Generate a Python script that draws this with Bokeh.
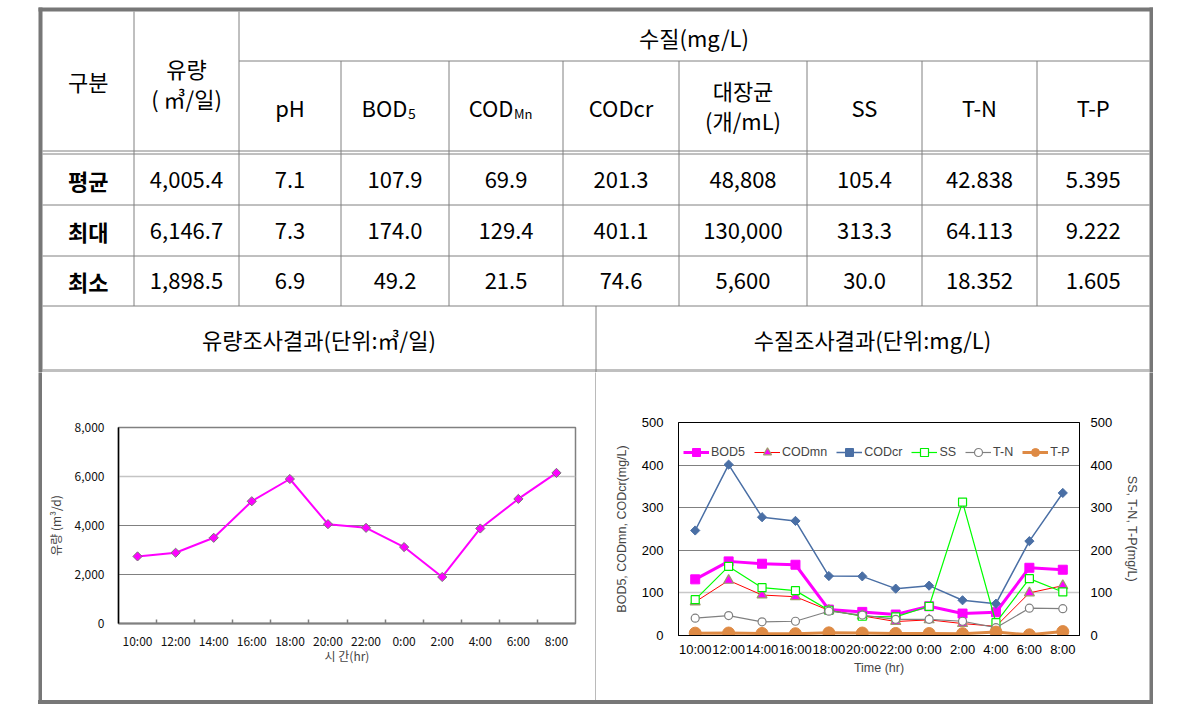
import math
from bokeh.plotting import figure
from bokeh.models import Range1d, LinearAxis, FixedTicker, NumeralTickFormatter, Grid, Spacer
from bokeh.layouts import row, column
from bokeh.embed import file_html
from bokeh.resources import INLINE
from bokeh.core.properties import value

# ---------------- data ----------------
times = ["10:00", "12:00", "14:00", "16:00", "18:00", "20:00", "22:00",
         "0:00", "2:00", "4:00", "6:00", "8:00"]
flow = [2739, 2888, 3498, 4990, 5898, 4054, 3905, 3119, 1898.5, 3878, 5085, 6146.7]
bod5 = [131.8, 174.0, 168.5, 166.1, 60.8, 55.4, 49.2, 68.6, 51.5, 54.6, 159.0, 154.4]
codmn = [78.8, 129.4, 95.0, 91.0, 59.0, 46.0, 32.8, 36.7, 28.0, 21.5, 100.0, 117.0]
codcr = [246.5, 401.1, 277.7, 269.0, 139.6, 138.8, 110.0, 117.0, 82.7, 74.6, 221.5, 334.6]
ss = [84.2, 162.2, 112.3, 105.3, 59.3, 45.2, 43.7, 68.6, 313.3, 30.0, 133.4, 102.2]
tn = [40.6, 46.8, 32.0, 33.5, 57.0, 48.0, 38.0, 38.0, 33.5, 18.4, 64.1, 63.0]
tp = [5.5, 5.8, 4.8, 4.2, 6.2, 5.8, 4.8, 4.6, 4.3, 8.0, 1.6, 9.2]

flow_yticks = [0, 2000, 4000, 6000, 8000]
wq_yticks = [0, 100, 200, 300, 400, 500]

stat_labels = ["평균", "최대", "최소"]
stat_flow = ["4,005.4", "6,146.7", "1,898.5"]
stat_ph = ["7.1", "7.3", "6.9"]
stat_bod = ["107.9", "174.0", "49.2"]
stat_codmn = ["69.9", "129.4", "21.5"]
stat_codcr = ["201.3", "401.1", "74.6"]
stat_coli = ["48,808", "130,000", "5,600"]
stat_ss = ["105.4", "313.3", "30.0"]
stat_tn = ["42.838", "64.113", "18.352"]
stat_tp = ["5.395", "9.222", "1.605"]

BORDER = "#777777"
LINE = "#808080"
KR = "Noto Sans CJK KR"
SANS = "Liberation Sans"

def no_align(f):
    try:
        f.frame_align = False
    except Exception:
        pass
    return f

# ---------------- table (top) ----------------
X0, X1, Y0, Y1 = 0, 1153, 0, 372
top = figure(width=X1 - X0, height=Y1 - Y0, x_range=Range1d(X0, X1), y_range=Range1d(Y1, Y0),
             output_backend="svg", toolbar_location=None, x_axis_location=None,
             y_axis_location=None, min_border=0, outline_line_color=None, title=None,
             background_fill_color="white", border_fill_color="white")
top.grid.visible = False
no_align(top)

# outer border
top.quad(left=[38, 38, 1149], right=[1153, 42, 1153], top=[7, 7, 7], bottom=[11, 372, 372],
         fill_color=BORDER, line_color=None)

col_edges = [42, 133.5, 238.5, 340.5, 448.5, 562.5, 678.5, 806.5, 921.5, 1036.5, 1149]
sx0, sy0, sx1, sy1 = [], [], [], []
for xv in col_edges[1:3]:
    sx0.append(xv); sx1.append(xv); sy0.append(11); sy1.append(305.5)
for xv in col_edges[3:-1]:
    sx0.append(xv); sx1.append(xv); sy0.append(60.5); sy1.append(305.5)
sx0.append(238.5); sx1.append(1149); sy0.append(60.5); sy1.append(60.5)
for yv in [150.5, 153.5, 204.5, 255.5, 305.5, 369.5, 371.5]:
    sx0.append(42); sx1.append(1149); sy0.append(yv); sy1.append(yv)
sx0.append(595.5); sx1.append(595.5); sy0.append(305.5); sy1.append(372)
top.segment(x0=sx0, y0=sy0, x1=sx1, y1=sy1, line_color=LINE, line_width=1)

centers = [(col_edges[i] + col_edges[i + 1]) / 2 for i in range(len(col_edges) - 1)]

def txt(fig, xs, ys, texts, font, size, align="center", style="normal", color="black"):
    fig.text(x=xs, y=ys, text=texts, text_font=value(font), text_font_size=size,
             text_align=align, text_baseline="middle", text_font_style=style, text_color=color)

# header (Korean)
txt(top, [centers[0], centers[1], centers[1], 693.5, centers[6], centers[6]],
    [80.5, 67, 97, 36, 89, 119],
    ["구분", "유량", "( ㎥/일)", "수질(mg/L)", "대장균", "(개/mL)"], KR, "22px")
# header (latin)
txt(top, [centers[2], centers[5], centers[7], centers[8], centers[9]],
    [106] * 5, ["pH", "CODcr", "SS", "T-N", "T-P"], KR, "22px")
txt(top, [407], [106], ["BOD"], KR, "22px", align="right")
txt(top, [407.5], [113], ["5"], KR, "14px", align="left")
txt(top, [513], [106], ["COD"], KR, "22px", align="right")
txt(top, [513.5], [113], ["Mn"], KR, "13px", align="left")

# body rows
row_y = [179, 230, 280.5]
txt(top, [centers[0]] * 3, row_y, stat_labels, KR, "22px", style="bold")
cols = [stat_flow, stat_ph, stat_bod, stat_codmn, stat_codcr, stat_coli, stat_ss, stat_tn, stat_tp]
bx, by, bt = [], [], []
for ci, colvals in enumerate(cols):
    for ri, v in enumerate(colvals):
        bx.append(centers[ci + 1]); by.append(row_y[ri]); bt.append(v)
txt(top, bx, by, bt, KR, "22px")

# chart title row
txt(top, [318.5, 872], [338, 338], ["유량조사결과(단위:㎥/일)", "수질조사결과(단위:mg/L)"], KR, "22px")

# ---------------- left chart: flow ----------------
xs = list(range(len(times)))
labels = {i: t for i, t in enumerate(times)}

lf = figure(width=553, height=328, x_range=Range1d(-0.5, len(times) - 0.5),
            y_range=Range1d(flow_yticks[0], flow_yticks[-1]),
            output_backend="svg", toolbar_location=None, title=None,
            min_border_left=76, min_border_right=20, min_border_top=55, min_border_bottom=77,
            outline_line_color=LINE, outline_line_width=1.5,
            background_fill_color="white", border_fill_color="white")
no_align(lf)
lf.line(xs, flow, line_color="#FF00FF", line_width=2)
lf.scatter(xs, flow, marker="square", angle=math.pi / 4, size=6.5,
           fill_color="#FF00FF", line_color="#777777", line_width=1)

lf.xgrid.visible = False
lf.ygrid.ticker = FixedTicker(ticks=flow_yticks[1:3])
lf.ygrid.grid_line_color = LINE
lf.add_layout(Grid(dimension=1, ticker=FixedTicker(ticks=flow_yticks[3:4]),
                   grid_line_color="#c4c4c4", grid_line_width=1.5))

ax = lf.xaxis[0]
ax.ticker = FixedTicker(ticks=xs, minor_ticks=[i + 0.5 for i in xs[:-1]])
ax.major_label_overrides = labels
ax.major_tick_in = 0
ax.major_tick_out = 0
ax.minor_tick_in = 4
ax.minor_tick_out = 0
ax.minor_tick_line_color = LINE
ax.minor_tick_line_width = 1.5
ax.axis_line_color = LINE
ax.axis_line_width = 2
ax.major_label_standoff = 8
ax.major_label_text_font = KR
ax.major_label_text_font_size = "12px"
ax.major_label_text_color = "#111111"
ax.axis_label = "시 간(hr)"
ax.axis_label_text_font = KR
ax.axis_label_text_font_size = "12px"
ax.axis_label_text_font_style = "normal"
ax.axis_label_standoff = -5

ay = lf.yaxis[0]
ay.ticker = FixedTicker(ticks=flow_yticks)
ay.formatter = NumeralTickFormatter(format="0,0")
ay.major_tick_in = 0
ay.major_tick_out = 0
ay.minor_tick_line_color = None
ay.axis_line_color = "black"
ay.axis_line_width = 1.5
ay.major_label_standoff = 14
ay.major_label_text_font = KR
ay.major_label_text_font_size = "12px"
ay.major_label_text_color = "#111111"
ay.axis_label = "유량 (m³/d)"
ay.axis_label_text_font = KR
ay.axis_label_text_font_size = "12px"
ay.axis_label_text_font_style = "normal"
ay.axis_label_standoff = 8

# ---------------- right chart: water quality ----------------
rf = figure(width=553, height=328, x_range=Range1d(-0.5, len(times) - 0.5),
            y_range=Range1d(wq_yticks[0], wq_yticks[-1]),
            output_backend="svg", toolbar_location=None, title=None,
            min_border_left=82, min_border_right=70, min_border_top=50, min_border_bottom=65,
            outline_line_color="black", outline_line_width=1,
            background_fill_color="white", border_fill_color="white")
no_align(rf)
rf.extra_y_ranges = {"right": Range1d(wq_yticks[0], wq_yticks[-1])}

series = [
    ("BOD5", bod5, "default", dict(line_color="#FF00FF", line_width=3),
     dict(marker="square", size=9, fill_color="#FF00FF", line_color="#FF00FF")),
    ("CODmn", codmn, "default", dict(line_color="#FF0000", line_width=1),
     dict(marker="triangle", size=10, fill_color="#FF00FF", line_color="#9C9C6A", line_width=1.2)),
    ("CODcr", codcr, "default", dict(line_color="#4A6FA5", line_width=1.5),
     dict(marker="square", angle=math.pi / 4, size=6.5, fill_color="#4A6FA5", line_color="#4A6FA5")),
    ("SS", ss, "right", dict(line_color="#00FF00", line_width=1.2),
     dict(marker="square", size=8, fill_color="white", line_color="#00EE00", line_width=1.2)),
    ("T-N", tn, "right", dict(line_color="#808080", line_width=1.2),
     dict(marker="circle", size=8, fill_color="white", line_color="#808080", line_width=1.2)),
    ("T-P", tp, "right", dict(line_color="#DE8A44", line_width=3),
     dict(marker="circle", size=12, fill_color="#DE8A44", line_color="#DE8A44")),
]
for name, vals, rng, lkw, mkw in series:
    rf.line(xs, vals, y_range_name=rng, legend_label=name, **lkw)
    rf.scatter(xs, vals, y_range_name=rng, legend_label=name, **mkw)

rf.xgrid.visible = False
rf.ygrid.ticker = FixedTicker(ticks=wq_yticks[2:5])
rf.ygrid.grid_line_color = LINE
rf.add_layout(Grid(dimension=1, ticker=FixedTicker(ticks=wq_yticks[1:2]),
                   grid_line_color="#c8c8c8", grid_line_width=1.5))

bx_ = rf.xaxis[0]
bx_.ticker = FixedTicker(ticks=xs)
bx_.major_label_overrides = labels
bx_.major_tick_in = 0
bx_.major_tick_out = 0
bx_.minor_tick_line_color = None
bx_.axis_line_color = "black"
bx_.major_label_standoff = 6
bx_.major_label_text_font = SANS
bx_.major_label_text_font_size = "13px"
bx_.major_label_text_color = "black"
bx_.axis_label = "Time (hr)"
bx_.axis_label_text_font = SANS
bx_.axis_label_text_font_size = "12.5px"
bx_.axis_label_text_font_style = "normal"
bx_.axis_label_standoff = 1

def style_wq_axis(a, label):
    a.ticker = FixedTicker(ticks=wq_yticks)
    a.major_tick_in = 0
    a.major_tick_out = 0
    a.minor_tick_line_color = None
    a.axis_line_color = "black"
    a.major_label_text_font = SANS
    a.major_label_text_font_size = "13px"
    a.major_label_text_color = "black"
    a.axis_label = label
    a.axis_label_text_font = SANS
    a.axis_label_text_font_size = "12.5px"
    a.axis_label_text_font_style = "normal"
    a.axis_label_standoff = 10

ly = rf.yaxis[0]
style_wq_axis(ly, "BOD5, CODmn, CODcr(mg/L)")
ly.major_label_standoff = 15
ry = LinearAxis(y_range_name="right")
style_wq_axis(ry, "SS, T-N, T-P(mg/L)")
ry.major_label_standoff = 11
rf.add_layout(ry, "right")

lg = rf.legend[0]
lg.orientation = "horizontal"
lg.location = (5, 173)
lg.padding = 0
lg.margin = 0
lg.spacing = 9
lg.glyph_width = 26
lg.glyph_height = 20
lg.label_standoff = 2
lg.label_width = 5
lg.label_text_font = SANS
lg.label_text_font_size = "12.5px"
lg.background_fill_alpha = 0
lg.border_line_alpha = 0

# ---------------- border strips ----------------
def strip(w, h):
    f = figure(width=w, height=h, output_backend="svg", toolbar_location=None, title=None,
               x_axis_location=None, y_axis_location=None, min_border=0,
               outline_line_color=None, background_fill_color=BORDER, border_fill_color=BORDER)
    f.grid.visible = False
    no_align(f)
    return f

H = 328
bottom_line = Spacer(width=1115, height=4, styles={"background-color": BORDER})
bottom = row(Spacer(width=38, height=H + 4),
             column(row(strip(4, H), lf, strip(1, H), rf, strip(4, H)), bottom_line))
root = column(top, bottom)

open("out.html", "w").write(file_html(root, INLINE))
